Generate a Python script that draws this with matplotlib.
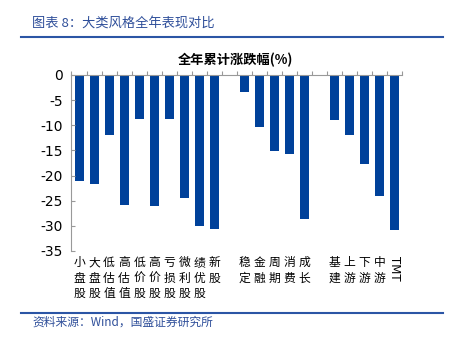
import matplotlib
matplotlib.use('Agg')
import matplotlib.pyplot as plt
import numpy as np

plt.rcParams['font.family'] = ['Noto Sans CJK SC', 'DejaVu Sans']

# data, blank strings are the gaps between groups
categories = ['小盘股', '大盘股', '低估值', '高估值', '低价股', '高价股', '亏损股', '微利股', '绩优股', '新股',
              '',
              '稳定', '金融', '周期', '消费', '成长',
              '',
              '基建', '上游', '下游', '中游', 'TMT']
values = [-21.1, -21.7, -12.0, -25.8, -8.7, -26.1, -8.8, -24.5, -30.1, -30.6,
          np.nan,
          -3.4, -10.3, -15.1, -15.8, -28.7,
          np.nan,
          -9.0, -11.9, -17.6, -24.1, -30.9]
yticks = [0, -5, -10, -15, -20, -25, -30, -35]

blue = '#00419A'
fig = plt.figure(figsize=(4.56, 3.4), dpi=100)
ax = fig.add_axes([71.5 / 456, 1 - 251 / 340, 330.5 / 456, 176 / 340])

x = np.arange(len(categories))
ax.bar(x, values, width=0.6, color=blue)
ax.set_xlim(-0.5, len(categories) - 0.5)
ax.set_ylim(-35, 0)
ax.set_yticks(yticks)
ax.set_yticklabels([str(v) for v in yticks], fontsize=10, family='DejaVu Sans')
ax.tick_params(axis='y', direction='in', length=3, color='#999999', pad=6)

# category boundary ticks on the zero line
ax.xaxis.tick_top()
ax.set_xticks(np.arange(len(categories) + 1) - 0.5)
ax.set_xticklabels([])
ax.tick_params(axis='x', direction='out', length=3, color='#999999')

for s in ['right', 'bottom']:
    ax.spines[s].set_visible(False)
ax.spines['left'].set_color('#999999')
ax.spines['top'].set_color('#999999')

for i, c in enumerate(categories):
    if c == 'TMT':
        ax.text(i, -36.0, c, rotation=270, ha='center', va='top', fontsize=8.5, family='DejaVu Sans')
    elif c:
        ax.text(i, -36.0, '\n'.join(c), ha='center', va='top', fontsize=8.5, linespacing=1.25)

fig.text(235 / 456, 1 - 60 / 340, '全年累计涨跌幅(%)', ha='center', va='center', fontsize=9.5, fontweight='bold')

# header and footer
fig.text(32 / 456, 1 - 23 / 340, '图表 8：大类风格全年表现对比', ha='left', va='center', fontsize=9.5,
         color='#2F4F9A', style='italic')
fig.add_artist(plt.Line2D([21 / 456, 443 / 456], [1 - 37 / 340, 1 - 37 / 340], color='#2B55A5', lw=1.5))
fig.add_artist(plt.Line2D([21 / 456, 443 / 456], [1 - 313 / 340, 1 - 313 / 340], color='#2B55A5', lw=1.5))
fig.text(32 / 456, 1 - 322 / 340, '资料来源：Wind，国盛证券研究所', ha='left', va='center', fontsize=8.5,
         color='#2F4F9A', style='italic')

fig.savefig('out.png', dpi=100)
